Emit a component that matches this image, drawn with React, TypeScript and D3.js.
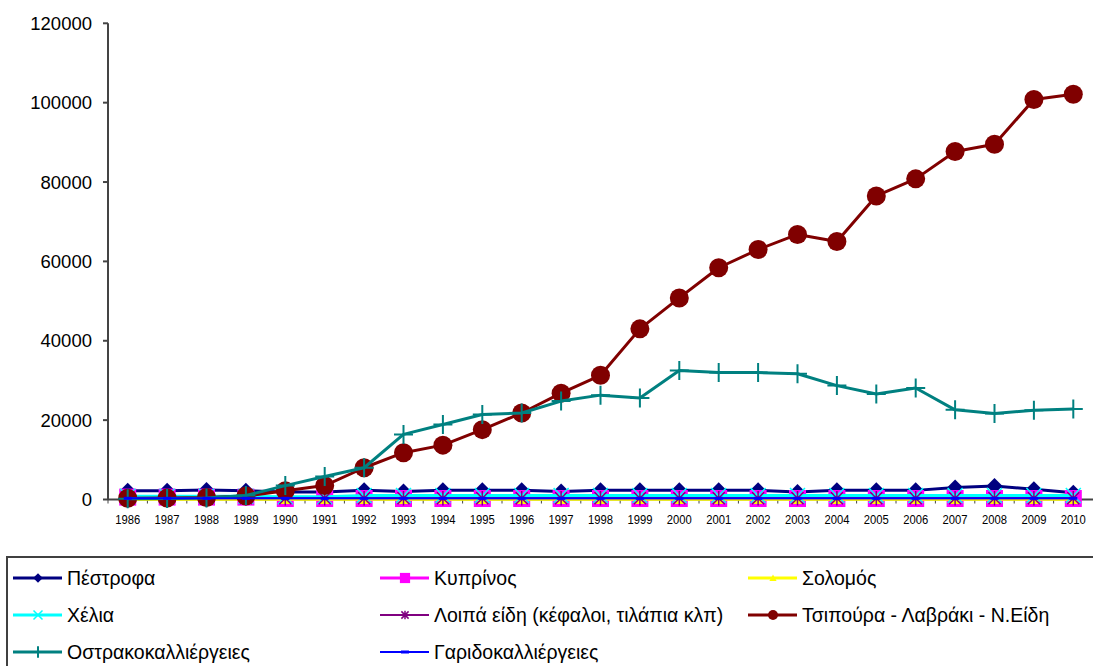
import React from "react";
import * as d3 from "d3";

const years = ["1986","1987","1988","1989","1990","1991","1992","1993","1994","1995","1996","1997","1998","1999","2000","2001","2002","2003","2004","2005","2006","2007","2008","2009","2010"];
const yTicks = [0, 20000, 40000, 60000, 80000, 100000, 120000];

const pestrofa = [2200,2200,2400,2200,1900,1900,2300,2000,2300,2300,2300,2000,2300,2300,2300,2300,2300,1900,2300,2300,2300,3000,3400,2600,1700];
const kyprinos = [600,600,600,600,250,250,250,250,250,250,250,250,250,250,250,250,250,250,250,250,250,250,250,250,250];
const solomos = [50,50,50,50,50,50,50,50,50,50,50,50,50,50,50,50,50,50,50,50,50,50,50,50,50];
const chelia = [800,800,800,800,700,700,1000,1000,1000,1000,1000,1000,1000,1000,1000,1000,1000,1000,1000,1000,1000,1000,1000,1000,1000];
const loipa = [300,300,300,300,300,300,300,300,300,300,300,300,300,300,300,300,300,300,300,300,300,300,300,300,300];
const tsipoura = [300,350,500,900,2200,3500,8000,11800,13700,17600,21800,26800,31300,43000,50800,58400,63000,66800,65000,76500,80800,87700,89500,100800,102100];
const ostraka = [200,250,400,1000,3500,5800,8000,16400,18900,21400,21800,24800,26300,25600,32500,32000,32000,31700,28700,26600,28100,22600,21700,22500,22800];
const garides = [300,300,300,300,300,300,300,300,300,300,300,300,300,300,300,300,300,300,300,300,300,300,300,300,300];

const seriesNames = [
  "Πέστροφα",
  "Κυπρίνος",
  "Σολομός",
  "Χέλια",
  "Λοιπά είδη (κέφαλοι, τιλάπια κλπ)",
  "Τσιπούρα - Λαβράκι - Ν.Είδη",
  "Οστρακοκαλλιέργειες",
  "Γαριδοκαλλιέργειες",
];
const seriesValues = [pestrofa, kyprinos, solomos, chelia, loipa, tsipoura, ostraka, garides];
const seriesColors = ["#000080", "#FF00FF", "#FFFF00", "#00FFFF", "#800080", "#800000", "#008080", "#0000FF"];
const seriesMarkers = ["diamond", "square", "triangle", "x", "star", "circle", "plus", "dash"];
const seriesWidths = [3, 3, 3, 3, 2, 3, 3, 2];

function Marker({ type, cx, cy, color, legend }: { type: string; cx: number; cy: number; color: string; legend?: boolean }) {
  const s = legend ? 0.6 : 1;
  switch (type) {
    case "diamond": {
      const r = 8 * s;
      return <path d={`M${cx},${cy - r}L${cx + r},${cy}L${cx},${cy + r}L${cx - r},${cy}Z`} fill={color} />;
    }
    case "square": {
      const r = 8.5 * s;
      return <rect x={cx - r} y={cy - r} width={2 * r} height={2 * r} fill={color} />;
    }
    case "triangle": {
      const r = 6 * s;
      return <path d={`M${cx},${cy - r}L${cx + r},${cy + r * 0.8}L${cx - r},${cy + r * 0.8}Z`} fill={color} />;
    }
    case "x": {
      const r = 7.5 * s;
      return <path d={`M${cx - r},${cy - r}L${cx + r},${cy + r}M${cx + r},${cy - r}L${cx - r},${cy + r}`} stroke={color} strokeWidth={1.5} />;
    }
    case "star": {
      const r = 6 * s;
      return <path d={`M${cx - r},${cy - r}L${cx + r},${cy + r}M${cx + r},${cy - r}L${cx - r},${cy + r}M${cx},${cy - r * 1.2}L${cx},${cy + r * 1.2}`} stroke={color} strokeWidth={1.5} />;
    }
    case "circle": {
      return <circle cx={cx} cy={cy} r={legend ? 5 : 9.5} fill={color} />;
    }
    case "plus": {
      const r = 9.5 * s;
      return <path d={`M${cx - r},${cy}L${cx + r},${cy}M${cx},${cy - r}L${cx},${cy + r}`} stroke={color} strokeWidth={2} />;
    }
    case "dash": {
      return <rect x={cx - 4} y={cy - 1.5} width={8} height={3} fill={color} />;
    }
  }
  return null;
}

export default function App() {
  const W = 1093, H = 666;
  const x = d3.scaleBand<string>().domain(years).range([108, 1093]).padding(0);
  const y = d3.scaleLinear().domain([0, 120000]).range([499.5, 23.3]);
  const cx = (yr: string) => (x(yr) as number) + x.bandwidth() / 2;
  const line = d3.line<number>().x((_, i) => cx(years[i])).y((v) => y(v));

  const legendCols = [13, 380, 748];
  const legendRows = [578, 615, 652];

  return (
    <svg width={W} height={H} style={{ position: "absolute", left: 0, top: 0, background: "#fff" }} fontFamily="'Liberation Sans', Arial, sans-serif">
      <rect width={W} height={H} fill="#fff" />
      {/* Y axis */}
      <line x1={108} x2={108} y1={y(120000)} y2={y(0)} stroke="#444" strokeWidth={2} />
      {yTicks.map((t) => (
        <g key={t}>
          <line x1={103} x2={108} y1={y(t)} y2={y(t)} stroke="#444" strokeWidth={2} />
          <text x={92} y={y(t)} dy="0.35em" textAnchor="end" fontSize={18.5} fill="#000">{t}</text>
        </g>
      ))}
      {/* X axis */}
      <line x1={108} x2={1093} y1={y(0)} y2={y(0)} stroke="#444" strokeWidth={2} />
      {years.map((yr) => (
        <g key={yr}>
          <line x1={x(yr) as number} x2={x(yr) as number} y1={y(0)} y2={y(0) + 4} stroke="#444" strokeWidth={1} />
          <text x={cx(yr)} y={524} textAnchor="middle" fontSize={12.5} fill="#000" textLength={25} lengthAdjust="spacingAndGlyphs">{yr}</text>
        </g>
      ))}
      {/* series */}
      {seriesValues.map((vals, si) => (
        <g key={si}>
          <path d={line(vals) as string} fill="none" stroke={seriesColors[si]} strokeWidth={seriesWidths[si]} strokeLinejoin="round" />
          {vals.map((v, i) => (
            <Marker key={i} type={seriesMarkers[si]} cx={cx(years[i])} cy={y(v)} color={seriesColors[si]} />
          ))}
        </g>
      ))}
      {/* legend */}
      <rect x={7} y={557} width={1100} height={120} fill="none" stroke="#404040" strokeWidth={2} />
      {seriesNames.map((name, i) => {
        const col = i % 3;
        const row = Math.floor(i / 3);
        const lx = legendCols[col];
        const ly = legendRows[row];
        return (
          <g key={name}>
            <line x1={lx} x2={lx + 49} y1={ly} y2={ly} stroke={seriesColors[i]} strokeWidth={seriesWidths[i]} />
            <Marker type={seriesMarkers[i]} cx={lx + 25} cy={ly} color={seriesColors[i]} legend />
            <text x={lx + 54} y={ly} dy="0.35em" fontSize={19.5} fill="#000">{name}</text>
          </g>
        );
      })}
    </svg>
  );
}
